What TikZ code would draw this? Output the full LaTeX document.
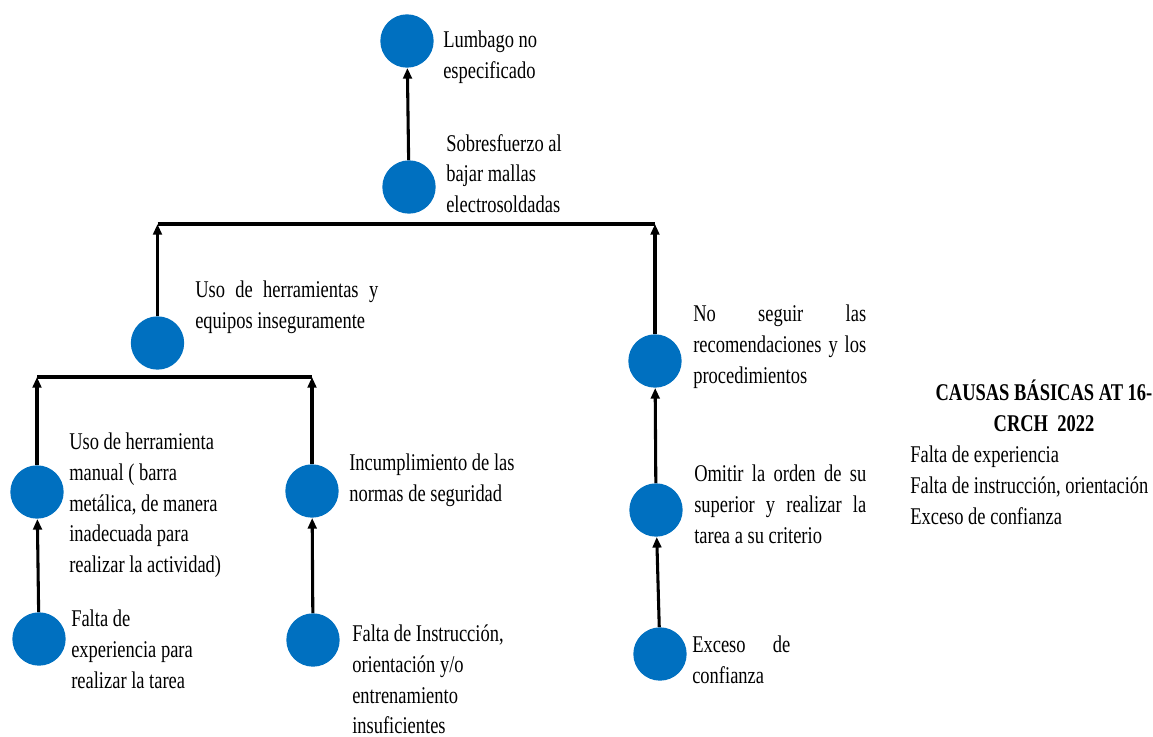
\documentclass[tikz,border=0pt]{standalone}
\usepackage{fontspec}
\setmainfont{Liberation Serif}[FakeStretch=0.77]
\usetikzlibrary{arrows.meta}
\definecolor{causeblue}{HTML}{0070C0}
\newlength\pxu
\setlength\pxu{0.75pt}
\newcommand\spread[2]{\makebox[#1\pxu][s]{#2}}

\begin{document}
\begin{tikzpicture}[x=0.75pt,y=-0.75pt,
    dot/.style={circle, fill=causeblue, minimum size=40pt, inner sep=0pt},
    lbl/.style={anchor=north west, align=left, inner sep=0pt, font=\fontsize{18}{23}\selectfont},
    arr/.style={-{Triangle[length=8pt,width=6.5pt]}, line width=2.3pt},
    bar/.style={line width=2.3pt}]
    \useasboundingbox (0,0) rectangle (1153,736);

    % circles
    \node[dot] (c1) at (407,41) {};
    \node[dot] (c2) at (409,187) {};
    \node[dot] (c3) at (157.5,343) {};
    \node[dot] (c4) at (655,361) {};
    \node[dot] (c5) at (37,492) {};
    \node[dot] (c6) at (312,491) {};
    \node[dot] (c7) at (39,639) {};
    \node[dot] (c8) at (313,640) {};
    \node[dot] (c10) at (656,510) {};
    \node[dot] (c9) at (660,654) {};

    % labels
    \node[lbl] (t1) at (443,31) {Lumbago no\\especificado};
    \node[lbl] (t2) at (446,134) {Sobresfuerzo al\\bajar mallas\\electrosoldadas};
    \node[lbl] (t3) at (195,281) {\spread{183}{Uso de herramientas y}\\equipos inseguramente};
    \node[lbl] (t4) at (693,305) {\spread{173}{No seguir las}\\\spread{173}{recomendaciones y los}\\procedimientos};
    \node[lbl] (t5) at (69,433) {Uso de herramienta\\manual ( barra\\metálica, de manera\\inadecuada para\\realizar la actividad)};
    \node[lbl] (t6) at (349,454) {Incumplimiento de las\\normas de seguridad};
    \node[lbl] (t7) at (71,610) {Falta de\\experiencia para\\realizar la tarea};
    \node[lbl] (t8) at (352,625) {Falta de Instrucción,\\orientación y/o\\entrenamiento\\insuficientes};
    \node[lbl] (t10) at (694,465) {\spread{172}{Omitir la orden de su}\\\spread{172}{superior y realizar la}\\tarea a su criterio};
    \node[lbl] (t9) at (692,636) {\spread{98}{Exceso de}\\confianza};

    % legend
    \node[lbl, anchor=north, align=center, font=\fontsize{18}{23}\selectfont\bfseries] (titulo) at (1044,380) {CAUSAS BÁSICAS AT 16-\\CRCH\ \ 2022};
    \node[lbl] (lista) at (910,446) {Falta de experiencia\\Falta de instrucción, orientación\\Exceso de confianza};

    % bars
    \coordinate (b1l) at (157.5,224);
    \coordinate (b1r) at (655,224);
    \coordinate (b2l) at (37,377);
    \coordinate (b2r) at (312,377);
    \draw[bar] (b1l) -- (b1r);
    \draw[bar] (b2l) -- (b2r);

    % arrows
    \draw[arr] (c2) -- (c1);
    \draw[arr] (c3) -- (b1l);
    \draw[arr] (c4) -- (b1r);
    \draw[arr] (c5) -- (b2l);
    \draw[arr] (c6) -- (b2r);
    \draw[arr] (c7) -- (c5);
    \draw[arr] (c8) -- (c6);
    \draw[arr] (c9) -- (c10);
    \draw[arr] (c10) -- (c4);
\end{tikzpicture}
\end{document}
